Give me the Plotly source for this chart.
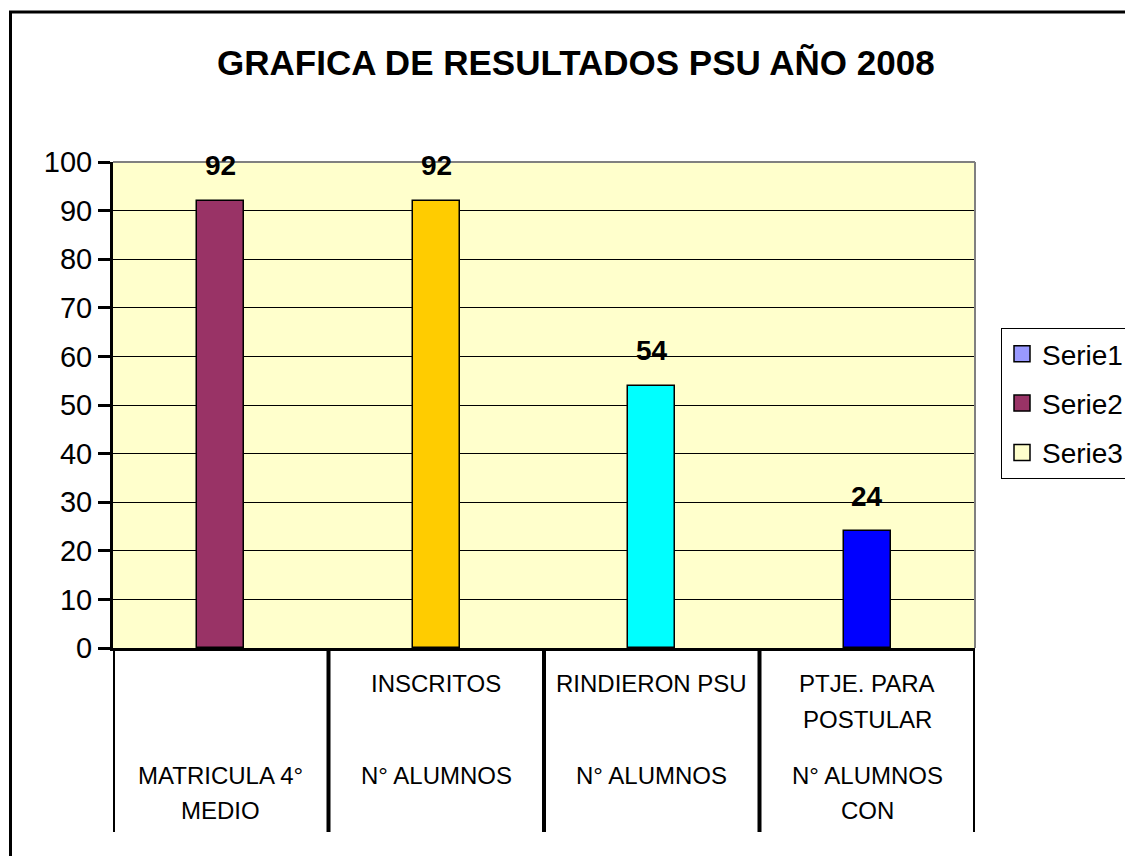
import plotly.graph_objects as go

# ---- data ----
categories = ["MATRICULA 4° MEDIO", "INSCRITOS", "RINDIERON PSU", "PTJE. PARA POSTULAR"]
values = [92, 92, 54, 24]
bar_colors = ["#993366", "#FFCC00", "#00FFFF", "#0000FF"]
top_labels = [[], ["INSCRITOS"], ["RINDIERON PSU"], ["PTJE. PARA", "POSTULAR"]]
bottom_labels = [["MATRICULA 4°", "MEDIO"], ["N° ALUMNOS"], ["N° ALUMNOS"], ["N° ALUMNOS", "CON"]]
legend_names = ["Serie1", "Serie2", "Serie3"]
legend_colors = ["#9999FF", "#993366", "#FFFFCC"]
y_ticks = list(range(0, 101, 10))

FONT = "Liberation Sans, Arial, sans-serif"
OFF = 8  # browser default body margin
W, H = 1133, 856
PL, PR, PT, PB = 113, 975, 162, 648  # plot area in page pixels
L, T = PL - OFF, PT - OFF
R, B = W - (PR - OFF), H - (PB - OFF)
PW, PH = PR - PL, PB - PT

def px_x(x):
    return (x - PL) / PW

def px_y(y):
    return (PB - y) / PH

fig = go.Figure()
fig.add_trace(go.Bar(
    x=list(range(len(categories))), y=values, width=0.22,
    marker=dict(color=bar_colors, line=dict(color="black", width=1.5)),
    showlegend=False, hoverinfo="skip",
))
for i, (n, c) in enumerate(zip(legend_names, legend_colors)):
    fig.add_trace(go.Scatter(
        x=[None], y=[None], mode="markers", name=n, legendgroup=n,
        marker=dict(symbol="square", size=18, color=c, line=dict(color="black", width=1.5)),
    ))

annotations = []
for i, v in enumerate(values):
    annotations.append(dict(x=i, y=v, xref="x", yref="y", text=f"<b>{v}</b>",
                            showarrow=False, yanchor="middle", yshift=35,
                            font=dict(family=FONT, size=28, color="black")))

top_rows_y = [683, 719]
bottom_rows_y = [775, 810]
for i in range(len(categories)):
    for j, line in enumerate(top_labels[i]):
        annotations.append(dict(x=i, y=px_y(top_rows_y[j]), xref="x", yref="paper", text=line,
                                showarrow=False, yanchor="middle",
                                font=dict(family=FONT, size=24, color="black")))
    for j, line in enumerate(bottom_labels[i]):
        annotations.append(dict(x=i, y=px_y(bottom_rows_y[j]), xref="x", yref="paper", text=line,
                                showarrow=False, yanchor="middle",
                                font=dict(family=FONT, size=24, color="black")))

annotations.append(dict(x=px_x(576), y=px_y(63), xref="paper", yref="paper",
                        text="<b>GRAFICA DE RESULTADOS PSU AÑO 2008</b>", showarrow=False,
                        xanchor="center", yanchor="middle",
                        font=dict(family=FONT, size=35, color="black")))

shapes = []
# category dividers below axis
for k in range(len(categories) + 1):
    shapes.append(dict(type="line", xref="x", yref="paper", x0=k - 0.5, x1=k - 0.5,
                       y0=0, y1=px_y(832), line=dict(color="black", width=4)))
# plot area top/right border (gray)
shapes.append(dict(type="line", xref="paper", yref="paper", x0=0, x1=1, y0=1, y1=1,
                   line=dict(color="#808080", width=2)))
shapes.append(dict(type="line", xref="paper", yref="paper", x0=1, x1=1, y0=0, y1=1,
                   line=dict(color="#808080", width=2)))
# outer chart border
shapes.append(dict(type="rect", xref="paper", yref="paper", x0=px_x(10.5), x1=px_x(1150),
                   y0=px_y(880), y1=px_y(12), line=dict(color="black", width=3),
                   fillcolor="rgba(0,0,0,0)", layer="above"))

fig.update_layout(
    width=W, height=H,
    margin=dict(l=L, r=R, t=T, b=B, autoexpand=False),
    paper_bgcolor="white", plot_bgcolor="#FFFFCC",
    font=dict(family=FONT, color="black"),
    xaxis=dict(range=[-0.5, 3.5], showticklabels=False, showgrid=False, zeroline=False,
               showline=True, linecolor="black", linewidth=3, ticks=""),
    yaxis=dict(range=[0, 100], tickvals=y_ticks, showgrid=True, gridcolor="black", gridwidth=1,
               zeroline=False, showline=True, linecolor="black", linewidth=3,
               ticks="outside", ticklen=12, tickwidth=3, tickcolor="black",
               tickfont=dict(family=FONT, size=29, color="black")),
    legend=dict(x=px_x(1001), y=px_y(328), xanchor="left", yanchor="top",
                bordercolor="black", borderwidth=1, bgcolor="white",
                font=dict(family=FONT, size=28, color="black"),
                traceorder="grouped", tracegroupgap=10),
    annotations=annotations, shapes=shapes,
    bargap=0,
)

fig.write_html("out.html")
